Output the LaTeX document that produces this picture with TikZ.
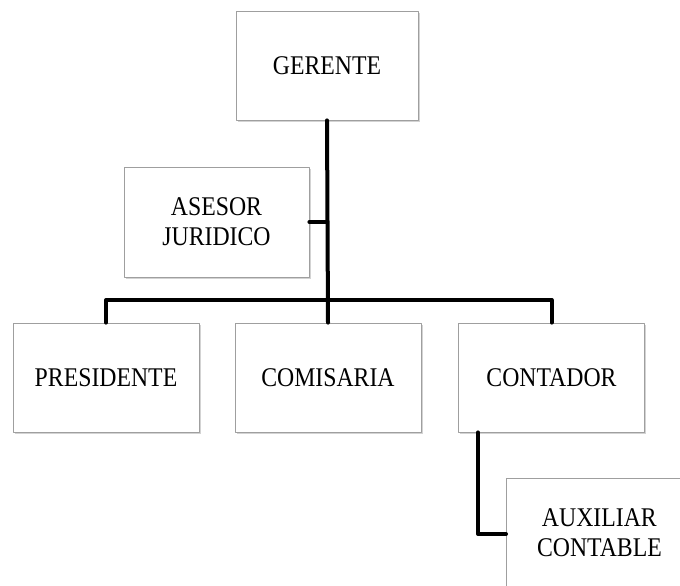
\documentclass[tikz,border=0pt]{standalone}
\usepackage{fontspec}
\setmainfont[FakeStretch=0.88]{Liberation Serif}
\usetikzlibrary{shadows}
\tikzset{
	puesto/.style={draw=gray!75, line width=0.8pt, fill=white, align=center,
		inner sep=0pt, minimum width=186pt, minimum height=109pt,
		font=\fontsize{27}{30}\selectfont,
		drop shadow={shadow xshift=1.5pt, shadow yshift=-2pt, opacity=0.35, fill=gray}},
	enlace/.style={line width=4pt, black}
}
\begin{document}
\begin{tikzpicture}[x=1pt, y=1pt, line join=round, line cap=round]
		\useasboundingbox (0,0) rectangle (680,-586);
		\clip (0,0) rectangle (680,-586);
		\path
		(328,-300) coordinate (B)
		(478,-534) coordinate (A);
		% cajas
		\node[puesto, minimum width=182pt] (ger) at (327,-65.5) {GERENTE};
		\node[puesto, minimum width=185pt, minimum height=110pt] (ase) at (216.5,-222) {ASESOR\\JURIDICO};
		\node[puesto] (pre) at (106,-377.5) {PRESIDENTE};
		\node[puesto] (com) at (328,-377.5) {COMISARIA};
		\node[puesto] (con) at (551.5,-377.5) {CONTADOR};
		\node[puesto, anchor=north west] (aux) at (506,-478) {AUXILIAR\\CONTABLE};
		% lineas
		\draw[enlace] (ger.south) -- (com.north);
		\draw[enlace] (ase.east) -- (ase.east -| ger.south);
		\draw[enlace] (pre.north) |- (con.north |- B) -- (con.north);
		\draw[enlace] (con.south -| A) |- (aux.west |- A);
	\end{tikzpicture}
\end{document}
